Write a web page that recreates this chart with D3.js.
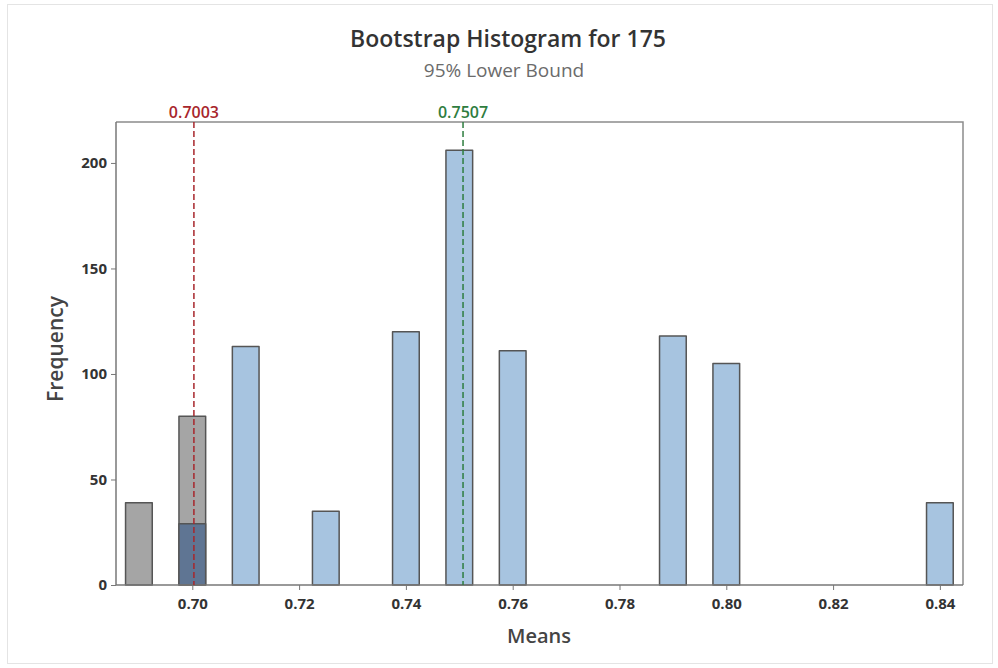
<!DOCTYPE html>
<html>
<head>
<meta charset="utf-8">
<script src="https://cdn.jsdelivr.net/npm/d3@7"></script>
<style>
  body { margin: 0; background: #fff; }
  svg { display: block; font-family: "Open Sans", "Noto Sans", sans-serif; }
</style>
</head>
<body>
<svg id="chart" width="998" height="668"></svg>
<script>
// Bootstrap histogram bins (midpoints, width 0.005)
const binMids   = [0.69, 0.70, 0.71, 0.725, 0.74, 0.75, 0.76, 0.79, 0.80, 0.84];
// Frequencies of bootstrap means above the lower bound
const aboveCounts = [0, 29, 113, 35, 120, 206, 111, 118, 105, 39];
// Frequencies of bootstrap means below the lower bound
const belowCounts = [39, 80, 0, 0, 0, 0, 0, 0, 0, 0];
const binWidth = 0.005;

const xTicks = [0.70, 0.72, 0.74, 0.76, 0.78, 0.80, 0.82, 0.84];
const yTicks = [0, 50, 100, 150, 200];

const lowerBound = 0.7003;
const observedMean = 0.7507;

const svg = d3.select("#chart");

// Faint outer border of the graph window
svg.append("rect")
  .attr("x", 7.5).attr("y", 4.5).attr("width", 985).attr("height", 659)
  .attr("fill", "none").attr("stroke", "#e4e4e4").attr("stroke-width", 1);

const plot = { left: 116, right: 963, top: 122, bottom: 585 };

const x = d3.scaleLinear().domain([0.68571, 0.84433]).range([plot.left, plot.right]);
const y = d3.scaleLinear().domain([0, 219.4]).range([plot.bottom, plot.top]);

// Titles
svg.append("text").attr("x", 508).attr("y", 47).attr("text-anchor", "middle")
  .attr("font-size", 23).attr("font-weight", 600).attr("fill", "#333")
  .text("Bootstrap Histogram for 175");
svg.append("text").attr("x", 504).attr("y", 77).attr("text-anchor", "middle")
  .attr("font-size", 19).attr("fill", "#6b6b6b")
  .text("95% Lower Bound");

// Bars
const bars = binMids.map((m, i) => ({
  m, above: aboveCounts[i], below: belowCounts[i]
}));
const barG = svg.append("g");
const bx = d => x(d.m - binWidth / 2);
const bw = d => x(d.m + binWidth / 2) - x(d.m - binWidth / 2);

// Gray: below-bound counts
barG.selectAll("rect.below").data(bars.filter(d => d.below > 0)).join("rect")
  .attr("class", "below")
  .attr("x", bx).attr("width", bw)
  .attr("y", d => y(d.below)).attr("height", d => y(0) - y(d.below))
  .attr("fill", "#a5a5a5").attr("stroke", "#555").attr("stroke-width", 1.5)
  .attr("stroke-linejoin", "round");

// Blue: above-bound counts (dark where overlapping the gray)
barG.selectAll("rect.above").data(bars.filter(d => d.above > 0)).join("rect")
  .attr("class", "above")
  .attr("x", bx).attr("width", bw)
  .attr("y", d => y(d.above)).attr("height", d => y(0) - y(d.above))
  .attr("fill", d => d.below > 0 ? "#5f7593" : "#a7c4e0")
  .attr("stroke", "#555").attr("stroke-width", 1.5)
  .attr("stroke-linejoin", "round");

// Frame (top and right)
svg.append("path")
  .attr("d", `M${plot.left},${plot.top}H${plot.right}V${plot.bottom}`)
  .attr("fill", "none").attr("stroke", "#8c8c8c").attr("stroke-width", 1.5);

// Axes
const xAxis = svg.append("g").attr("transform", `translate(0,${plot.bottom})`)
  .call(d3.axisBottom(x).tickValues(xTicks).tickFormat(d3.format(".2f")).tickSizeOuter(0).tickSize(5).tickPadding(8));
const yAxis = svg.append("g").attr("transform", `translate(${plot.left},0)`)
  .call(d3.axisLeft(y).tickValues(yTicks).tickSizeOuter(0).tickSize(5).tickPadding(4));
[xAxis, yAxis].forEach(a => {
  a.select(".domain").attr("stroke", "#777").attr("stroke-width", 1.5);
  a.selectAll(".tick line").attr("stroke", "#777");
  a.selectAll(".tick text").attr("font-size", 15).attr("font-weight", 700)
    .attr("fill", "#333").attr("font-family", "\"Open Sans\", sans-serif");
});
// Extend the x baseline to the full frame width
xAxis.select(".domain").attr("d", `M${plot.left},0H${plot.right}`);
yAxis.select(".domain").attr("d", `M0,${y(0)}V${plot.top}`);

// Axis titles
svg.append("text").attr("x", 539).attr("y", 643).attr("text-anchor", "middle")
  .attr("font-size", 20).attr("font-weight", 600).attr("fill", "#444").text("Means");
svg.append("text").attr("transform", "translate(63,349) rotate(-90)")
  .attr("text-anchor", "middle").attr("font-size", 21).attr("font-weight", 600)
  .attr("fill", "#444").text("Frequency");

// Reference lines
const refs = [
  { v: lowerBound, color: "#a8262c", label: "0.7003" },
  { v: observedMean, color: "#2f7d3f", label: "0.7507" }
];
refs.forEach(r => {
  svg.append("line")
    .attr("x1", x(r.v)).attr("x2", x(r.v))
    .attr("y1", plot.top).attr("y2", plot.bottom)
    .attr("stroke", r.color).attr("stroke-width", 1.5)
    .attr("stroke-dasharray", "6,3");
  svg.append("text")
    .attr("x", x(r.v)).attr("y", 118).attr("text-anchor", "middle")
    .attr("font-size", 16).attr("font-weight", 600).attr("fill", r.color)
    .text(r.label);
});
</script>
</body>
</html>
